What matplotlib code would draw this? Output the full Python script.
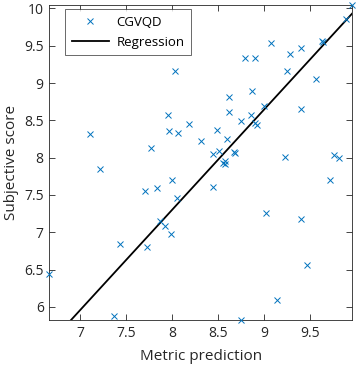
import numpy as np
import matplotlib
matplotlib.use('Agg')
import matplotlib.pyplot as plt

# data
metric = [6.665, 7.109, 7.221, 7.429, 7.371, 7.723, 7.701, 7.774, 7.837, 7.872,
          7.919, 7.985, 7.999, 8.058, 7.957, 7.968, 8.067, 8.036, 8.184, 8.317,
          8.450, 8.443, 8.508, 8.486, 8.595, 8.574, 8.555, 8.581, 8.617, 8.617,
          8.675, 8.690, 8.756, 8.799, 8.908, 8.868, 8.865, 8.901, 8.923, 8.999,
          9.072, 9.250, 9.279, 9.402, 9.402, 9.231, 9.028, 9.399, 9.465, 9.144,
          8.756, 9.566, 9.628, 9.646, 9.719, 9.762, 9.814, 9.893, 9.962]
subjective = [6.433, 8.316, 7.847, 6.842, 5.877, 6.798, 7.552, 8.133, 7.597, 7.154,
              7.087, 6.976, 7.706, 7.454, 8.571, 8.363, 8.326, 9.161, 8.446, 8.229,
              7.602, 8.044, 8.091, 8.366, 8.249, 7.954, 7.924, 7.910, 8.808, 8.605,
              8.075, 8.058, 8.495, 9.331, 9.339, 8.897, 8.571, 8.460, 8.437, 8.698,
              9.540, 9.165, 9.389, 9.465, 8.647, 8.008, 7.261, 7.181, 6.560, 6.087,
              5.823, 9.050, 9.563, 9.550, 7.696, 8.035, 7.991, 9.858, 10.046]

# regression line end points
reg_x = [6.665, 9.962]
reg_y = [5.505, 9.934]

xticks = [7, 7.5, 8, 8.5, 9, 9.5]
yticks = [6, 6.5, 7, 7.5, 8, 8.5, 9, 9.5, 10]

plt.rcParams['font.family'] = ['Open Sans', 'DejaVu Sans']
gray = (0.15, 0.15, 0.15)

fig = plt.figure(figsize=(3.58, 3.69), dpi=100)
ax = fig.add_axes([0.1377, 0.1328, 0.8464, 0.8536])

ax.plot(metric, subjective, linestyle='none', marker='x', markersize=5,
        markeredgewidth=0.7, color=(0, 0.447, 0.741), label='CGVQD',
        clip_on=False, zorder=3)
ax.plot(reg_x, reg_y, color='k', linewidth=1.3, label='Regression')

ax.set_xlim(min(metric), max(metric))
ax.set_ylim(min(subjective), max(subjective))
ax.set_xticks(xticks)
ax.set_xticklabels([f'{t:g}' for t in xticks])
ax.set_yticks(yticks)
ax.set_yticklabels([f'{t:g}' for t in yticks])
ax.tick_params(direction='in', top=True, right=True, length=4, width=0.6,
               labelsize=10, colors=gray, labelcolor=gray, pad=4)
for s in ax.spines.values():
    s.set_color(gray)
    s.set_linewidth(0.6)

ax.set_xlabel('Metric prediction', fontsize=11, color=gray, labelpad=6)
ax.set_ylabel('Subjective score', fontsize=11, color=gray, labelpad=4)

leg = ax.legend(loc='upper left', bbox_to_anchor=(0.052, 0.986), fontsize=9.5,
                frameon=True, fancybox=False, edgecolor=gray, borderpad=0.5,
                handlelength=2.8, handletextpad=0.6, labelspacing=0.5,
                borderaxespad=0)
leg.get_frame().set_linewidth(0.6)
leg.set_zorder(5)

fig.savefig('out.png', dpi=100)
